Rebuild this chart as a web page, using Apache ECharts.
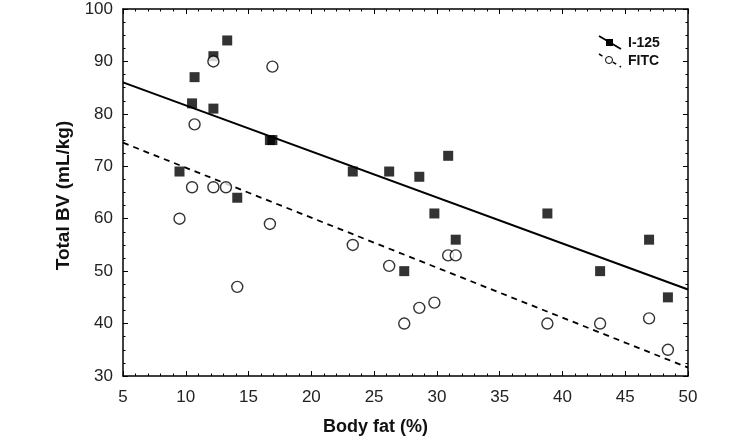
<!DOCTYPE html>
<html>
<head>
<meta charset="utf-8">
<script src="https://cdn.jsdelivr.net/npm/echarts@6/dist/echarts.min.js"></script>
<style>html,body{margin:0;padding:0;background:#fff}#c{width:755px;height:441px}</style>
</head>
<body>
<div id="c"></div>
<script>
// Body fat (%) per subject
const bodyFat = [9.5, 10.5, 10.7, 12.2, 12.2, 13.3, 14.1, 16.7, 16.9, 23.3, 26.2, 27.4, 28.6, 29.8, 30.9, 31.5, 38.8, 43.0, 46.9, 48.4];
// I-125 total BV (mL/kg)
const i125 = [69, 82, 87, 91, 81, 94, 64, 75, 75, 69, 69, 50, 68, 61, 72, 56, 61, 50, 56, 45];
// FITC total BV
const fitcX = [9.5, 10.5, 10.7, 12.2, 12.2, 13.2, 14.1, 16.7, 16.9, 23.3, 26.2, 27.4, 28.6, 29.8, 30.9, 31.5, 38.8, 43.0, 46.9, 48.4];
const fitc = [60, 66, 78, 90, 66, 66, 47, 59, 89, 55, 51, 40, 43, 44, 53, 53, 40, 40, 41, 35];
// Regression lines endpoints (x at 5 and 50)
const fitXs = [5, 50];
const i125Fit = [86.0, 46.5];
const fitcFit = [74.5, 31.6];

const xTicks = [5, 10, 15, 20, 25, 30, 35, 40, 45, 50];
const yTicks = [30, 40, 50, 60, 70, 80, 90, 100];

const font = 'Liberation Sans, Arial, sans-serif';
const chart = echarts.init(document.getElementById('c'), null, {renderer: 'canvas'});

const tickCommon = {show: true, inside: true, length: 5, lineStyle: {color: '#000', width: 1}};
const minorCommon = {show: true, length: 2.5, lineStyle: {color: '#000', width: 1}};

chart.setOption({
  animation: false,
  grid: {left: 123, top: 9, right: 67, bottom: 62, show: false},
  xAxis: [{
    type: 'value', min: xTicks[0], max: xTicks[xTicks.length-1], interval: 5, position: 'bottom',
    name: 'Body fat (%)', nameLocation: 'middle', nameGap: 42,
    nameTextStyle: {fontFamily: font, fontWeight: 'bold', fontSize: 18, color: '#111', padding: [0, 60, 0, 0]},
    axisLine: {show: true, onZero: false, lineStyle: {color: '#000', width: 1.5}},
    axisTick: tickCommon, minorTick: Object.assign({splitNumber: 5}, minorCommon),
    splitLine: {show: false},
    axisLabel: {fontFamily: font, fontSize: 17, color: '#222', margin: 13}
  }, {
    type: 'value', min: xTicks[0], max: xTicks[xTicks.length-1], interval: 5, position: 'top',
    axisLine: {show: true, onZero: false, lineStyle: {color: '#000', width: 1.5}},
    axisTick: tickCommon, minorTick: Object.assign({splitNumber: 5}, minorCommon),
    splitLine: {show: false}, axisLabel: {show: false}
  }],
  yAxis: [{
    type: 'value', min: yTicks[0], max: yTicks[yTicks.length-1], interval: 10, position: 'left',
    name: 'Total BV (mL/kg)', nameLocation: 'middle', nameGap: 47, nameRotate: 90,
    nameTextStyle: {fontFamily: font, fontWeight: 'bold', fontSize: 19, color: '#111', padding: [0, 6, 0, 0]},
    axisLine: {show: true, onZero: false, lineStyle: {color: '#000', width: 1.5}},
    axisTick: tickCommon, minorTick: Object.assign({splitNumber: 4}, minorCommon),
    splitLine: {show: false},
    axisLabel: {fontFamily: font, fontSize: 17, color: '#222', margin: 10}
  }, {
    type: 'value', min: yTicks[0], max: yTicks[yTicks.length-1], interval: 10, position: 'right',
    axisLine: {show: true, onZero: false, lineStyle: {color: '#000', width: 1.5}},
    axisTick: tickCommon, minorTick: Object.assign({splitNumber: 4}, minorCommon),
    splitLine: {show: false}, axisLabel: {show: false}
  }],
  series: [{
    name: 'I-125 fit', type: 'line', data: fitXs.map((x, i) => [x, i125Fit[i]]),
    showSymbol: false, lineStyle: {color: '#000', width: 2}, z: 2
  }, {
    name: 'FITC fit', type: 'line', data: fitXs.map((x, i) => [x, fitcFit[i]]),
    showSymbol: false, lineStyle: {color: '#000', width: 1.8, type: [6, 5]}, z: 2
  }, {
    name: 'I-125', type: 'scatter', data: bodyFat.map((x, i) => [x, i125[i]]),
    symbol: 'rect', symbolSize: 10, itemStyle: {color: '#000'}, z: 3
  }, {
    name: 'FITC', type: 'scatter', data: fitcX.map((x, i) => [x, fitc[i]]),
    symbol: 'circle', symbolSize: 11, itemStyle: {color: '#fff', borderColor: '#000', borderWidth: 1.4}, z: 4
  }],
  graphic: [
    {type: 'line', shape: {x1: 599, y1: 36, x2: 621, y2: 49}, style: {stroke: '#000', lineWidth: 1.8}},
    {type: 'rect', shape: {x: 606, y: 39, width: 7, height: 7}, style: {fill: '#000'}},
    {type: 'text', style: {x: 628, y: 43, text: 'I-125', font: 'bold 14px ' + font, fill: '#111', verticalAlign: 'middle'}},
    {type: 'line', shape: {x1: 599, y1: 54, x2: 621, y2: 67}, style: {stroke: '#000', lineWidth: 1.5, lineDash: [4, 4]}},
    {type: 'circle', shape: {cx: 609, cy: 60, r: 3.5}, style: {fill: '#fff', stroke: '#000', lineWidth: 1}},
    {type: 'text', style: {x: 628, y: 61, text: 'FITC', font: 'bold 14px ' + font, fill: '#111', verticalAlign: 'middle'}}
  ]
});
</script>
</body>
</html>
